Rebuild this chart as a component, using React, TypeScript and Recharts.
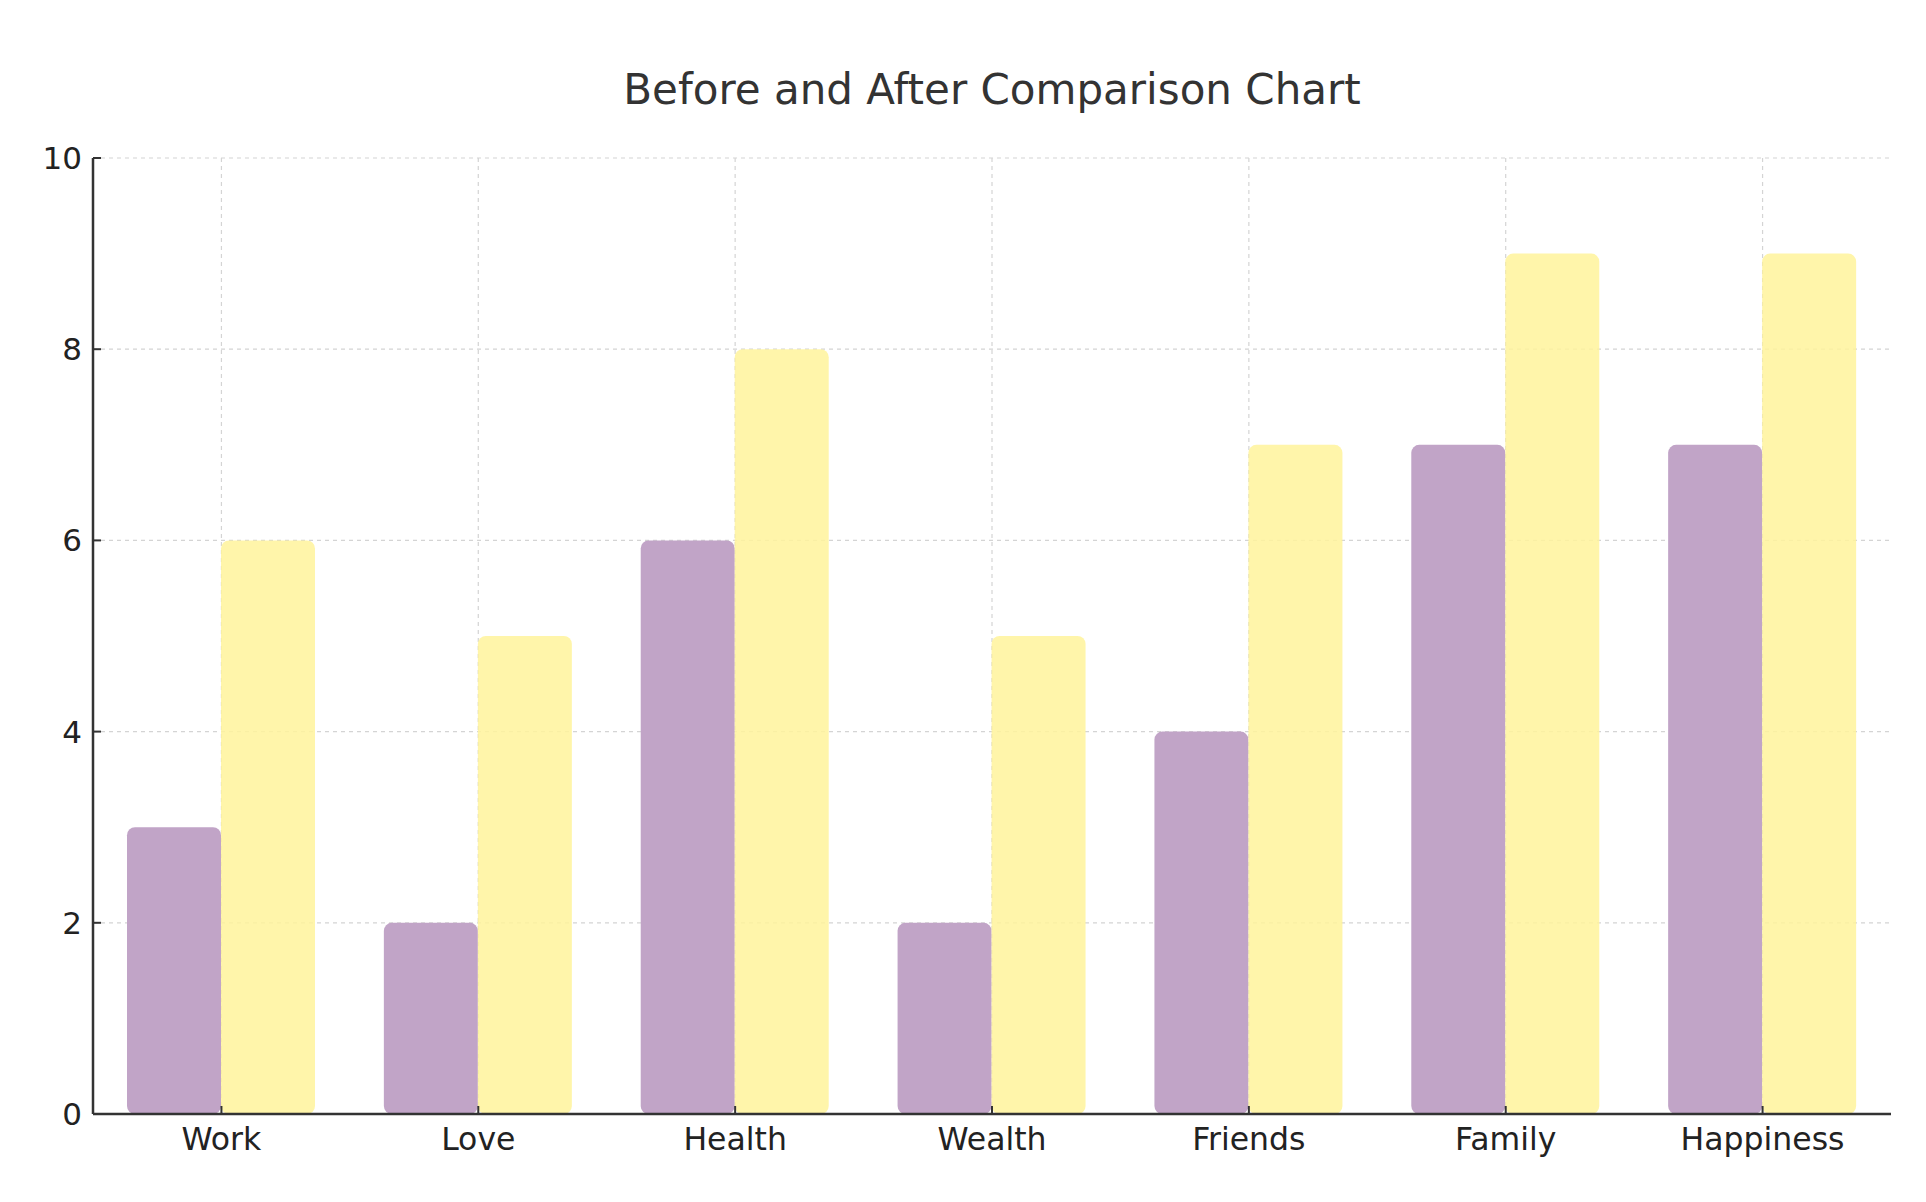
import React from 'react';
import { BarChart, Bar, XAxis, YAxis, CartesianGrid } from 'recharts';

const categories = ['Work', 'Love', 'Health', 'Wealth', 'Friends', 'Family', 'Happiness'];
const beforeValues = [3, 2, 6, 2, 4, 7, 7];
const afterValues = [6, 5, 8, 5, 7, 9, 9];
const yTicks = [0, 2, 4, 6, 8, 10];

const chartData = categories.map((name, i) => ({
    name,
    before: beforeValues[i],
    after: afterValues[i],
}));

const FONT = '"DejaVu Sans", sans-serif';

// vertical grid only at the category centres (no line on the right border)
const verticalAtCentres = ({ offset }: any) =>
    categories.map((_, i) => offset.left + ((i + 0.5) * offset.width) / categories.length);

const App = () => {
    return (
        <div style={{ position: 'absolute', left: 0, top: 0, width: 1926, height: 1202, background: '#fff', overflow: 'hidden' }}>
            <div
                style={{
                    position: 'absolute',
                    left: 93,
                    width: 1798,
                    top: 65,
                    textAlign: 'center',
                    fontFamily: FONT,
                    fontSize: 42,
                    color: '#333',
                    lineHeight: '50px',
                }}
            >
                Before and After Comparison Chart
            </div>
            <BarChart
                width={1926}
                height={1202}
                data={chartData}
                margin={{ top: 158, right: 35, bottom: 28, left: 0 }}
                barGap={0}
                barSize={94}
            >
                <CartesianGrid
                    stroke="#d4d4d4"
                    strokeDasharray="4 4"
                    strokeWidth={1.2}
                    verticalCoordinatesGenerator={verticalAtCentres}
                />
                <XAxis
                    dataKey="name"
                    height={60}
                    axisLine={{ stroke: '#333', strokeWidth: 2.5 }}
                    tickLine={{ stroke: '#333', strokeWidth: 2 }}
                    tickSize={-8}
                    tickMargin={22}
                    tick={{ fill: '#222', fontSize: 31.5, fontFamily: FONT }}
                    interval={0}
                />
                <YAxis
                    width={93}
                    domain={[0, 10]}
                    ticks={yTicks}
                    axisLine={{ stroke: '#333', strokeWidth: 2.5 }}
                    tickLine={{ stroke: '#333', strokeWidth: 2 }}
                    tickSize={-8}
                    tickMargin={19}
                    tick={{ fill: '#222', fontSize: 31, fontFamily: FONT }}
                />
                <Bar dataKey="before" fill="#C1A4C7" radius={8} isAnimationActive={false} />
                <Bar dataKey="after" fill="#FFF39B" fillOpacity={0.85} radius={8} isAnimationActive={false} />
            </BarChart>
        </div>
    );
};

export default App;
